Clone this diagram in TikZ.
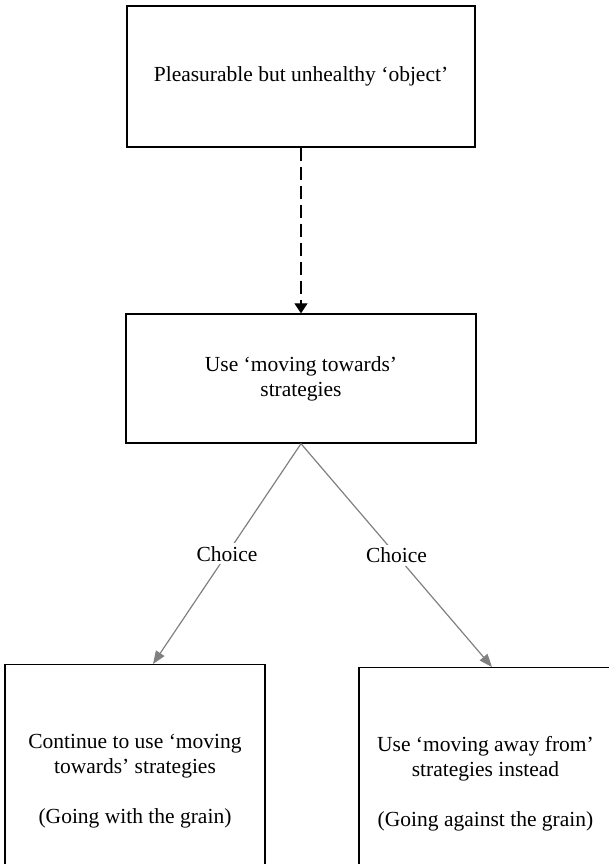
\documentclass[tikz,border=0pt]{standalone}
\usepackage{fontspec}
\setmainfont{Liberation Serif}
\usetikzlibrary{arrows.meta}
\tikzset{%
	box/.style = {draw,line width=0.65pt,align=center,inner sep=0pt},
	maybe/.style = {draw,line width=0.6pt,dash pattern=on 6.5pt off 3pt,-{Triangle[length=5pt,width=6.5pt]}},
	pick/.style = {draw=gray,line width=0.6pt,-{Triangle[length=6.5pt,width=5pt]}},
	choice/.style = {fill=white,inner sep=1.5pt}%
}

\begin{document}
\begin{tikzpicture}[x=0.5pt,y=-0.5pt,font=\fontsize{10.75pt}{12.5pt}\selectfont]
			\clip(0,0)rectangle(609,864);
			
			\node(obj)[box,minimum width=174pt,minimum height=70.5pt]at(301,76.5){Pleasurable but unhealthy `object'};
			\node(use)[box,minimum width=175pt,minimum height=64.5pt]at(301,378.5){Use `moving towards'\\strategies};
			\node(cont)[box,anchor=north,minimum width=130pt,minimum height=116pt]at(135,664)
				{Continue to use `moving\\towards' strategies\\[12.5pt](Going with the grain)};
			\node(away)[box,anchor=north,minimum width=126.5pt,minimum height=116pt]at(485.5,667)
				{Use `moving away from'\\strategies instead\\[12.5pt](Going against the grain)};
			
			\draw[maybe](obj)--(use);
			\draw[pick](use.south)--([xshift=9pt]cont.north)node[midway,choice]{Choice};
			\draw[pick](use.south)--([xshift=3.25pt]away.north)node[midway,choice]{Choice};
			\end{tikzpicture}
\end{document}
